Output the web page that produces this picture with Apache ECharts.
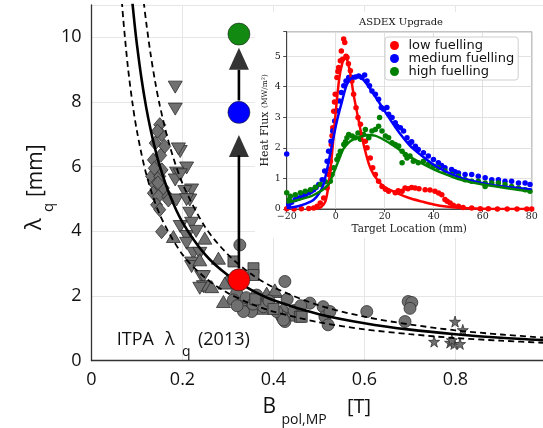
<!DOCTYPE html>
<html><head><meta charset="utf-8">
<script src="https://cdn.jsdelivr.net/npm/echarts@6/dist/echarts.min.js"></script>
<style>html,body{margin:0;padding:0;background:#fff}#c{width:543px;height:428px}</style>
</head><body><div id="c"></div>
<script>
// ---------- main chart data ----------
const xTicks = [0, 0.2, 0.4, 0.6, 0.8, 1.0];
const yTicks = [0, 2, 4, 6, 8, 10];
const diamonds = [[0.150,7.30],[0.154,6.99],[0.140,6.73],[0.161,6.63],[0.145,7.10],[0.136,6.21],[0.143,6.01],[0.152,6.35],[0.132,5.70],[0.150,5.70],[0.140,5.44],[0.158,5.34],[0.136,5.18],[0.147,5.08],[0.143,4.82],[0.150,4.67],[0.168,5.08],[0.169,4.97],[0.155,5.90],[0.138,5.95],[0.146,5.50],[0.154,3.99]];
const downTriangles = [[0.184,8.46],[0.184,7.78],[0.195,6.47],[0.191,6.55],[0.209,5.96],[0.187,5.80],[0.184,5.59],[0.195,5.75],[0.220,5.28],[0.205,5.23],[0.216,4.97],[0.187,4.97],[0.209,4.98],[0.216,4.56],[0.220,4.25],[0.195,4.15],[0.209,3.84],[0.209,3.63],[0.224,3.32],[0.238,3.32],[0.220,3.02],[0.220,2.91],[0.242,2.60],[0.246,2.60],[0.246,2.29],[0.238,2.24],[0.230,4.00]];
const upTriangles = [[0.180,3.84],[0.249,3.79],[0.279,3.17],[0.238,3.12],[0.257,2.34],[0.297,2.45],[0.290,1.83],[0.293,2.40],[0.264,2.29],[0.385,2.09],[0.403,2.14],[0.334,1.83],[0.374,1.62],[0.436,1.41],[0.422,1.67],[0.403,2.19]];
const circles = [[0.326,3.58],[0.319,2.09],[0.312,1.88],[0.348,1.57],[0.352,1.52],[0.378,1.72],[0.418,1.36],[0.425,2.45],[0.425,1.21],[0.480,1.78],[0.509,1.67],[0.513,1.36],[0.520,1.11],[0.334,1.52],[0.407,1.52],[0.363,2.03],[0.378,1.67],[0.422,1.26],[0.524,1.52],[0.605,1.52],[0.696,1.83],[0.704,1.80],[0.700,1.62],[0.689,1.21],[0.340,1.95],[0.390,1.85],[0.445,1.55],[0.460,1.70],[0.320,1.70],[0.355,1.75],[0.430,1.90]];
const squares = [[0.312,3.07],[0.356,2.86],[0.356,2.65],[0.458,1.36],[0.462,1.36],[0.400,1.60],[0.360,1.90]];
const stars = [[0.799,1.21],[0.816,0.95],[0.753,0.59],[0.788,0.56],[0.797,0.52],[0.810,0.52],[0.792,0.64]];
const fitCurve = [[0.09,11.06],[0.095,10.37],[0.10,9.76],[0.11,8.71],[0.12,7.85],[0.13,7.14],[0.14,6.54],[0.15,6.02],[0.17,5.19],[0.20,4.28],[0.25,3.28],[0.30,2.64],[0.35,2.20],[0.40,1.87],[0.50,1.44],[0.60,1.16],[0.70,0.96],[0.80,0.82],[0.90,0.71],[1.00,0.63]];
const upperBound = [[0.11,11.71],[0.115,11.07],[0.12,10.49],[0.13,9.47],[0.14,8.62],[0.15,7.90],[0.17,6.74],[0.20,5.48],[0.25,4.13],[0.30,3.28],[0.35,2.69],[0.40,2.27],[0.50,1.71],[0.60,1.36],[0.70,1.12],[0.80,0.94],[0.90,0.81],[1.00,0.71]];
const lowerBound = [[0.065,11.43],[0.07,10.53],[0.08,9.08],[0.09,7.97],[0.10,7.09],[0.12,5.79],[0.15,4.52],[0.20,3.28],[0.25,2.56],[0.30,2.09],[0.35,1.76],[0.40,1.52],[0.50,1.19],[0.60,0.97],[0.70,0.82],[0.80,0.70],[0.90,0.62],[1.00,0.55]];
const redDot = [0.324, 2.50];
const blueDot = [0.324, 7.68];
const greenDot = [0.324, 10.10];
const arrow1 = [[0.324, 2.85], [0.324, 6.35]];
const arrow1Head = [0.324, 6.64];
const arrow2 = [[0.324, 8.05], [0.324, 9.00]];
const arrow2Head = [0.324, 9.34];

// ---------- inset data ----------
const insetXTicks = [-20, 0, 20, 40, 60, 80];
const insetYTicks = [0, 1, 2, 3, 4, 5];
const lowPts = [[-20,0.01],[-17,0.0],[-14,0.01],[-11,0.02],[-9,0.03],[-7.6,0.09],[-6.3,0.2],[-4.9,0.36],[-3.5,0.69],[-2.9,1.13],[-2.5,1.3],[-2.2,1.56],[-1.8,2.11],[-1.5,2.4],[-1.2,2.66],[-0.8,3.2],[-0.5,3.5],[-0.2,3.75],[0.5,4.30],[0.9,4.5],[1.2,4.63],[1.9,4.85],[2.3,5.17],[2.8,4.9],[3.25,5.56],[3.7,5.45],[4.2,5.0],[4.6,4.96],[5.2,4.75],[6.0,4.52],[6.6,4.19],[7.3,3.75],[8.3,3.31],[9.1,2.99],[10.1,2.77],[10.7,2.44],[12.1,2.22],[12.8,2.0],[14.1,1.67],[15.1,1.35],[16.2,1.13],[17.5,0.91],[18.9,0.74],[20.3,0.65],[21.6,0.58],[24.3,0.53],[25.5,0.6],[27.1,0.58],[28.3,0.69],[29.5,0.66],[31,0.7],[32.4,0.69],[34,0.66],[36.5,0.63],[38.5,0.62],[40.5,0.58],[42,0.52],[43.3,0.47],[44.6,0.31],[45.5,0.25],[46.7,0.2],[48,0.12],[50.1,0.09],[52,0.05],[55.5,0.03],[59,0.01],[62.3,0.01],[66,0],[70,0],[74,0],[78,0],[80,0]];
const medPts = [[-20,1.8],[-19.2,0.14],[-18,0.22],[-16.5,0.31],[-15,0.36],[-13.8,0.42],[-12.4,0.47],[-11,0.53],[-10,0.58],[-9,0.63],[-8,0.7],[-6.9,0.8],[-5.5,0.96],[-4.5,1.24],[-3.5,1.56],[-2.9,1.89],[-1.9,2.22],[-1.2,2.55],[-0.4,2.88],[0.5,3.21],[1.5,3.53],[2.3,3.81],[3.3,4.03],[4.2,4.19],[5.3,4.3],[6.7,4.3],[8.0,4.32],[9.4,4.35],[10.7,4.30],[11.8,4.38],[12.8,4.19],[13.8,4.03],[14.8,3.86],[16.2,3.75],[17.5,3.59],[18.6,3.32],[19.6,3.26],[20.9,3.32],[21.6,3.10],[23.0,2.99],[24.3,2.82],[25,2.71],[26.4,2.66],[27.7,2.55],[29.1,2.33],[30.4,2.17],[31.0,2.2],[32.5,2.05],[33.7,1.95],[35.8,1.84],[37.8,1.73],[39.9,1.62],[41.9,1.51],[43.2,1.42],[44.6,1.35],[47.3,1.29],[48.7,1.22],[50.1,1.18],[52.8,1.13],[55.5,1.13],[58.2,1.07],[61,1.02],[63.7,0.96],[66.4,0.96],[69.1,0.91],[71.8,0.91],[74.6,0.85],[77.3,0.85],[79.3,0.80]];
const highPts = [[-20,0.53],[-19,0.3],[-18.5,0.42],[-16.5,0.47],[-14.4,0.53],[-12.4,0.58],[-10.3,0.63],[-8.3,0.71],[-6.3,0.8],[-4.2,0.89],[-2.2,0.91],[-1.5,1.13],[-0.8,1.35],[0.5,1.62],[1.2,1.75],[1.9,1.89],[3.3,2.11],[4.0,2.2],[4.6,2.33],[5.3,2.44],[6.7,2.39],[8.0,2.33],[9.1,2.49],[10.1,2.28],[11.4,2.44],[12.1,2.60],[13.5,2.33],[14.8,2.55],[16.2,2.60],[17.5,2.71],[17.9,2.99],[18.9,2.55],[20.3,2.39],[21.6,2.33],[23,2.17],[24.3,2.11],[25.7,2.06],[27.1,1.89],[27.1,1.51],[28.4,1.78],[29.1,1.67],[30.3,1.73],[31.7,1.56],[33.7,1.51],[35.8,1.56],[37.8,1.46],[39.9,1.40],[41.9,1.35],[44.6,1.24],[47.3,1.13],[50.1,1.07],[52.8,0.96],[55.5,0.91],[58.2,0.91],[61,0.85],[61,0.74],[63.7,0.85],[66.4,0.85],[69.1,0.80],[71.8,0.74],[74.6,0.69],[77.3,0.63],[79.3,0.58]];
const lowFit = [[-9,0],[-8,0.01],[-6,0.06],[-4.2,0.25],[-2.9,0.8],[-1.8,1.56],[-0.8,2.44],[0.3,3.42],[1.5,4.3],[2.6,4.74],[3.7,4.93],[4.6,4.9],[6,4.41],[7.3,3.75],[9.4,2.88],[11.4,2.11],[14.1,1.35],[17.5,0.9],[20,0.72],[25,0.52],[30,0.36],[35,0.25],[40,0.15],[45,0.08],[50,0.04],[60,0.01],[70,0],[80,0]];
const medFit = [[-20,0.03],[-15,0.1],[-10,0.25],[-8,0.38],[-6,0.62],[-5,0.8],[-3.5,1.3],[-1.5,2.1],[0.5,2.88],[2.6,3.53],[4.6,4.08],[6.7,4.3],[8.7,4.35],[11,4.25],[13,4.05],[15,3.82],[18,3.45],[20,3.2],[25,2.6],[30,2.1],[35,1.75],[40,1.45],[45,1.22],[50,1.05],[55,0.93],[60,0.84],[65,0.77],[70,0.72],[75,0.68],[80,0.64]];
const highFit = [[-20,0.2],[-15,0.3],[-10,0.42],[-8,0.5],[-5,0.65],[-3,0.8],[-1.5,1.05],[0,1.35],[1.5,1.65],[3,1.95],[5,2.15],[7,2.27],[9.5,2.35],[13,2.42],[16,2.4],[20,2.25],[25,2.0],[30,1.72],[35,1.5],[40,1.3],[45,1.13],[50,0.98],[55,0.88],[60,0.8],[65,0.74],[70,0.68],[75,0.62],[80,0.57]];
const legendNames = ['low fuelling', 'medium fuelling', 'high fuelling'];

// ---------- styles ----------
const SANS = '"Open Sans", "Noto Sans", sans-serif';
const SERIF = '"DejaVu Serif", serif';
const GREY = '#707070', EDGE = '#2e2e2e';
const STAR = 'path://M50,0 L61,35 L98,35 L68,57 L79,91 L50,70 L21,91 L32,57 L2,35 L39,35 Z';
const RED = '#ff0000', BLUE = '#0000ff', GREEN = '#008000';

function greyScatter(data, symbol, size, rotate) {
  return { type: 'scatter', xAxisIndex: 0, yAxisIndex: 0, data, symbol, symbolSize: size, symbolRotate: rotate || 0,
    itemStyle: { color: GREY, borderColor: EDGE, borderWidth: 0.8, opacity: 1 }, z: 2, silent: true };
}
function curve(data, dashed) {
  return { type: 'line', xAxisIndex: 0, yAxisIndex: 0, data, smooth: 0.3, showSymbol: false, symbol: 'none', clip: true,
    lineStyle: { color: '#000', width: dashed ? 1.8 : 2.6, type: dashed ? [6, 4] : 'solid' }, z: 3, silent: true };
}
function bigDot(pt, color) {
  return { type: 'scatter', xAxisIndex: 0, yAxisIndex: 0, data: [pt], symbolSize: 22,
    itemStyle: { color, borderColor: '#222', borderWidth: 0.6, opacity: 1 }, z: 4, silent: true };
}
function insetPts(name, data, color) {
  return { name, type: 'scatter', xAxisIndex: 1, yAxisIndex: 1, data, symbolSize: 5.5,
    itemStyle: { color, opacity: 1 }, z: 8, silent: true };
}
function insetFit(data, color) {
  return { type: 'line', xAxisIndex: 1, yAxisIndex: 1, data, smooth: 0.3, showSymbol: false, symbol: 'none',
    lineStyle: { color, width: 2.5 }, z: 9, silent: true };
}
function textEl(text, x, y, size, family, align, z) {
  return { type: 'text', z: z || 20, style: { text, x, y, font: size + 'px ' + family, fill: '#111',
    textAlign: align || 'left', align: align || 'left', textVerticalAlign: 'middle', verticalAlign: 'middle' } };
}
const fmt1 = v => { const r = Math.round(v * 10) / 10; return r === 0 ? '0' : (r === 1 ? '1' : r.toFixed(1)); };

const chart = echarts.init(document.getElementById('c'), null, { renderer: 'canvas' });
chart.setOption({
  animation: false,
  backgroundColor: '#fff',
  grid: [
    { left: 91.5, top: 5, width: 455, height: 355.7, containLabel: false, outerBoundsMode: 'none' },
    { left: 286.7, top: 31.7, width: 245, height: 177.3, show: true, backgroundColor: '#fff', borderColor: '#222', borderWidth: 0.8, z: 6, outerBoundsMode: 'none' }
  ],
  xAxis: [
    { gridIndex: 0, type: 'value', min: xTicks[0], max: xTicks[xTicks.length - 1], interval: 0.2,
      axisLine: { show: true, lineStyle: { color: '#333', width: 1.3 } }, axisTick: { show: false },
      axisLabel: { fontFamily: SANS, fontSize: 18, color: '#111', margin: 10, formatter: fmt1 },
      splitLine: { show: true, lineStyle: { color: '#e6e6e6', width: 1 } }, z: 0 },
    { gridIndex: 1, type: 'value', min: insetXTicks[0], max: insetXTicks[insetXTicks.length - 1], interval: 20,
      axisLine: { show: true, onZero: false, lineStyle: { color: '#222', width: 0.8 } },
      axisTick: { show: true, length: 3, lineStyle: { color: '#222', width: 0.8 } },
      axisLabel: { fontFamily: SERIF, fontSize: 9.5, color: '#222', margin: 3, formatter: v => v < 0 ? '\u2212' + Math.abs(v) : String(v) },
      splitLine: { show: true, lineStyle: { color: '#d9d9d9', width: 0.8 } },
      name: 'Target Location (mm)', nameLocation: 'middle', nameGap: 15,
      nameTextStyle: { fontFamily: SERIF, fontSize: 10.5, color: '#222' }, z: 7 }
  ],
  yAxis: [
    { gridIndex: 0, type: 'value', min: 0, max: 11, interval: 2,
      axisLine: { show: true, lineStyle: { color: '#333', width: 1.3 } }, axisTick: { show: false },
      axisLabel: { fontFamily: SANS, fontSize: 18, color: '#111', margin: 10, formatter: v => v > 10.5 ? '' : String(v) },
      splitLine: { show: true, lineStyle: { color: '#e6e6e6', width: 1 } }, z: 0 },
    { gridIndex: 1, type: 'value', min: 0, max: 5.8, interval: 1,
      axisLine: { show: true, onZero: false, lineStyle: { color: '#222', width: 0.8 } },
      axisTick: { show: true, length: 3.5, lineStyle: { color: '#222', width: 0.8 } },
      axisLabel: { fontFamily: SERIF, fontSize: 9.5, color: '#222', margin: 6, formatter: v => v > 5.5 ? '' : String(v) },
      splitLine: { show: true, lineStyle: { color: '#d9d9d9', width: 0.8 } },
      name: '{a|Heat Flux }{b|(MW/m²)}', nameLocation: 'middle', nameGap: 16,
      nameTextStyle: { fontFamily: SERIF, fontSize: 11, color: '#222',
        rich: { a: { fontFamily: SERIF, fontSize: 11, color: '#222' }, b: { fontFamily: SERIF, fontSize: 7.5, color: '#222' } } }, z: 7 }
  ],
  legend: {
    data: legendNames, orient: 'vertical', left: 385, top: 37, z: 20,
    backgroundColor: '#fff', borderColor: '#cfcfcf', borderWidth: 1, borderRadius: 3,
    padding: [2, 4, 2, 5], itemGap: 0, itemWidth: 18, itemHeight: 9, icon: 'circle',
    textStyle: { fontFamily: '"DejaVu Sans", sans-serif', fontSize: 13, color: '#111', lineHeight: 13 },
    selectedMode: false
  },
  graphic: [
    { type: 'rect', shape: { x: 255, y: 12, width: 290, height: 226 }, style: { fill: '#fff' }, z: 5, silent: true },
    textEl('ASDEX Upgrade', 401, 22.7, 10, SERIF, 'center'),
    textEl('ITPA', 116.7, 340, 18, SANS),
    textEl('\u03bb', 165, 340, 18, SANS),
    textEl('q', 182, 352, 14, SANS),
    textEl('(2013)', 198, 340, 18, SANS),
    textEl('B', 262.5, 407, 21, SANS),
    textEl('pol,MP', 281.5, 420, 14, SANS),
    textEl('[T]', 347, 407, 20, SANS),
    { type: 'group', x: 35, y: 230, rotation: Math.PI / 2, z: 20, children: [
      textEl('\u03bb', 0, 0, 22, SANS),
      textEl('q', 18, 14, 15, SANS),
      textEl('[mm]', 33, 1.5, 21, SANS)
    ] }
  ],
  series: [
    greyScatter(diamonds, 'diamond', [12, 14]),
    greyScatter(downTriangles, 'triangle', [14, 12], 180),
    greyScatter(upTriangles, 'triangle', [14, 12]),
    greyScatter(circles, 'circle', 12),
    greyScatter(squares, 'rect', 11),
    greyScatter(stars, STAR, 11),
    curve(lowerBound, true),
    curve(upperBound, true),
    curve(fitCurve, false),
    { type: 'line', xAxisIndex: 0, yAxisIndex: 0, data: arrow1, showSymbol: false, symbol: 'none', lineStyle: { color: '#000', width: 2.6 }, z: 4, silent: true },
    { type: 'line', xAxisIndex: 0, yAxisIndex: 0, data: arrow2, showSymbol: false, symbol: 'none', lineStyle: { color: '#000', width: 2.6 }, z: 4, silent: true },
    { type: 'scatter', xAxisIndex: 0, yAxisIndex: 0, data: [arrow1Head, arrow2Head], symbol: 'triangle', symbolSize: [20, 22], itemStyle: { color: '#000' }, z: 4, silent: true },
    bigDot(redDot, RED),
    bigDot(blueDot, BLUE),
    bigDot(greenDot, '#128a12'),
    insetPts(legendNames[0], lowPts, RED),
    insetPts(legendNames[1], medPts, BLUE),
    insetPts(legendNames[2], highPts, GREEN),
    insetFit(lowFit, RED),
    insetFit(medFit, BLUE),
    insetFit(highFit, GREEN)
  ]
});
</script></body></html>
